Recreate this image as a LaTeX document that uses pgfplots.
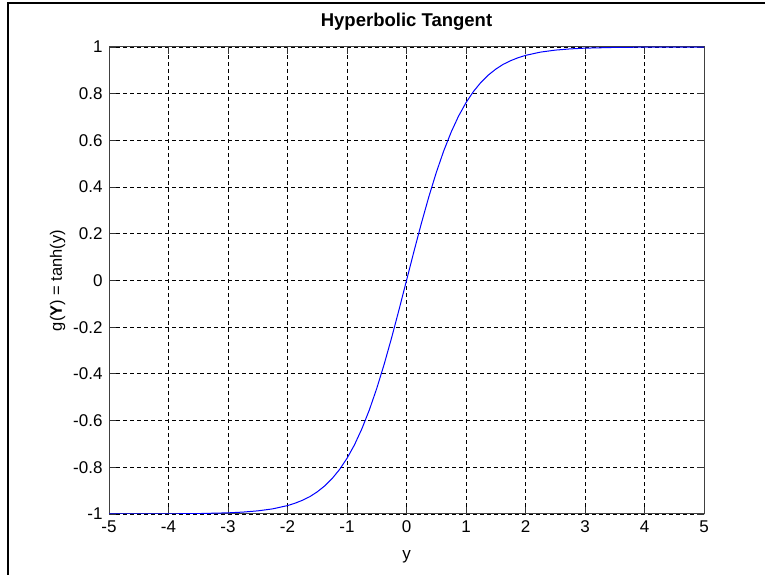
\documentclass[border=0pt]{standalone}
\usepackage{fontspec}
\setmainfont{Liberation Sans}
\usepackage{pgfplots}
\pgfplotsset{compat=1.18}

\begin{document}
\begin{tikzpicture}[x=1pt,y=1pt]
  % canvas and window frame
  \path[use as bounding box] (0,0) rectangle (765,575);
  \draw[line width=2.5pt, black] (8,0) -- (8,572) -- (765,572);

  \begin{axis}[
    at={(109pt,61pt)}, anchor=south west,
    scale only axis,
    width=595pt, height=467pt,
    xmin=-5, xmax=5, ymin=-1, ymax=1,
    xtick={-5,-4,-3,-2,-1,0,1,2,3,4,5},
    ytick={-1,-0.8,-0.6,-0.4,-0.2,0,0.2,0.4,0.6,0.8,1},
    yticklabels={-1,-0.8,-0.6,-0.4,-0.2,0,0.2,0.4,0.6,0.8,1},
    xticklabels={-5,-4,-3,-2,-1,0,1,2,3,4,5},
    tick align=inside,
    major tick length=7pt,
    tick style={black!80, line width=0.9pt},
    axis line style={black!75, line width=1pt},
    grid=major,
    major grid style={black, line width=0.9pt, dash pattern=on 4pt off 3pt},
    tick label style={font=\fontsize{17}{20}\selectfont, black},
    yticklabel style={xshift=-3pt},
    xticklabel style={yshift=-3.5pt},
    /pgf/number format/assume math mode=true,
    title={Hyperbolic Tangent},
    title style={font=\fontsize{18.5}{22}\selectfont\bfseries,
      at={(axis description cs:0.5,1)}, anchor=base, yshift=14pt},
    xlabel={y},
    xlabel style={font=\fontsize{17}{20}\selectfont,
      at={(axis description cs:0.5,-0.0964)}, anchor=base},
    ylabel={g(\textbf{Y}) = tanh(y)},
    ylabel style={font=\fontsize{16.5}{19}\selectfont,
      at={(axis description cs:-0.079,0.5)}, anchor=base},
  ]
    \addplot[blue, line width=1pt] coordinates {
      (-5,-0.99991) (-4.5,-0.99975) (-4,-0.99933) (-3.5,-0.99818)
      (-3,-0.99505) (-2.75,-0.99186) (-2.5,-0.98661) (-2.25,-0.97803)
      (-2,-0.96403) (-1.875,-0.95393) (-1.75,-0.94138) (-1.625,-0.92574)
      (-1.5,-0.90515) (-1.375,-0.87976) (-1.25,-0.84828) (-1.125,-0.80933)
      (-1,-0.76159) (-0.875,-0.70419) (-0.75,-0.63515) (-0.625,-0.55459)
      (-0.5,-0.46212) (-0.375,-0.35835) (-0.25,-0.24492) (-0.125,-0.12435)
      (0,0)
      (0.125,0.12435) (0.25,0.24492) (0.375,0.35835) (0.5,0.46212)
      (0.625,0.55459) (0.75,0.63515) (0.875,0.70419) (1,0.76159)
      (1.125,0.80933) (1.25,0.84828) (1.375,0.87976) (1.5,0.90515)
      (1.625,0.92574) (1.75,0.94138) (1.875,0.95393) (2,0.96403)
      (2.25,0.97803) (2.5,0.98661) (2.75,0.99186) (3,0.99505)
      (3.5,0.99818) (4,0.99933) (4.5,0.99975) (5,0.99991)
    };
  \end{axis}
\end{tikzpicture}
\end{document}
